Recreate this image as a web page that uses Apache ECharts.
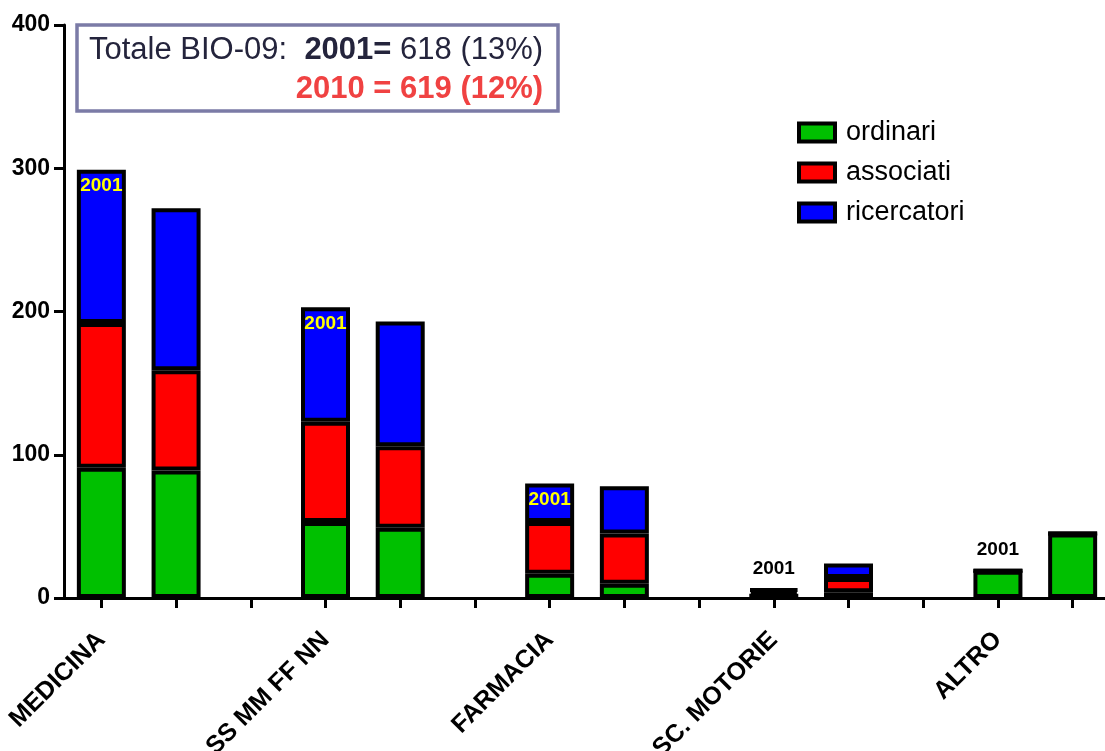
<!DOCTYPE html>
<html>
<head>
<meta charset="utf-8">
<script src="https://cdn.jsdelivr.net/npm/echarts@6/dist/echarts.min.js"></script>
<style>
  html, body { margin: 0; padding: 0; background: #fff; }
  #chart { width: 1105px; height: 751px; }
</style>
</head>
<body>
<div id="chart"></div>
<script>
// dati (per gruppo: 2001, 2010)
var groups = ['MEDICINA', 'SS MM FF NN', 'FARMACIA', 'SC. MOTORIE', 'ALTRO'];
var years = ['2001', '2010'];
var ordinari    = [91, 89, 53, 49, 17, 10, 3, 4, 19, 45];
var associati   = [101, 70, 70, 57, 36, 35, 2, 10, 0, 0];
var ricercatori = [107, 113, 80, 87, 27, 33, 1, 10, 0, 0];
var yTicks = [0, 100, 200, 300, 400];

// slot dell'asse x: 2 barre per gruppo + uno spazio vuoto
var slots = [];
var slotIndex = [];
groups.forEach(function (g, gi) {
  years.forEach(function (y) {
    slotIndex.push(slots.length);
    slots.push(g + ' ' + y);
  });
  if (gi < groups.length - 1) slots.push('gap' + gi);
});

function toSlots(values) {
  var out = slots.map(function () { return '-'; });
  values.forEach(function (v, i) { out[slotIndex[i]] = v; });
  return out;
}

// etichetta "2001" sulle barre del 2001
var ricData = toSlots(ricercatori).map(function (v, i) {
  var k = slotIndex.indexOf(i);
  if (k < 0 || k % 2 !== 0) return v;
  var inside = (ordinari[k] + associati[k] + ricercatori[k]) > 60;
  return {
    value: v,
    label: {
      show: true,
      position: inside ? 'insideTop' : 'top',
      distance: inside ? 7 : 10,
      formatter: years[0],
      color: inside ? '#ffff00' : '#000',
      fontSize: 19, fontWeight: 'bold', fontFamily: 'Liberation Sans'
    }
  };
});

var chart = echarts.init(document.getElementById('chart'));
var barStyle = function (c) {
  return { color: c, borderColor: '#000', borderWidth: 4 };
};

var option = {
  animation: false,
  textStyle: { fontFamily: 'Liberation Sans' },
  title: {
    text: '{a|Totale BIO-09:  }{b|2001=}{a| 618 (13%)}\n{c|2010 = 619 (12%)}',
    left: 77, top: 21,
    padding: [10, 15, 6, 12],
    borderColor: '#7b7ba6', borderWidth: 3.5,
    backgroundColor: '#fff',
    textStyle: {
      rich: {
        a: { fontSize: 31, color: '#24243c', fontWeight: 'normal', lineHeight: 39, fontFamily: 'Liberation Sans' },
        b: { fontSize: 31, color: '#24243c', fontWeight: 'bold', lineHeight: 39, fontFamily: 'Liberation Sans' },
        c: { fontSize: 31, color: '#f04242', fontWeight: 'bold', lineHeight: 39, align: 'right', fontFamily: 'Liberation Sans' }
      }
    }
  },
  legend: {
    orient: 'vertical',
    left: 792, top: 114,
    icon: 'rect',
    itemWidth: 36, itemHeight: 18, itemGap: 13,
    itemStyle: { borderColor: '#000', borderWidth: 4 },
    textStyle: { fontSize: 27, color: '#000', padding: [0, 0, 0, 6] },
    data: ['ordinari', 'associati', 'ricercatori']
  },
  grid: { left: 64, right: -5, top: 25, bottom: 153, outerBoundsMode: 'none' },
  xAxis: {
    type: 'category',
    data: slots,
    axisLine: { lineStyle: { color: '#000', width: 3 } },
    axisTick: { show: true, interval: 0, alignWithLabel: true, length: 10, lineStyle: { color: '#000', width: 3 } },
    axisLabel: {
      interval: 0, rotate: 45, margin: 38,
      fontSize: 25, fontWeight: 'bold', color: '#000',
      formatter: function (v, i) { return i % 3 === 0 ? groups[i / 3] : ''; }
    }
  },
  yAxis: {
    type: 'value',
    min: yTicks[0], max: yTicks[yTicks.length - 1], interval: 100,
    axisLine: { show: true, lineStyle: { color: '#000', width: 3 } },
    axisTick: { show: true, length: 10, lineStyle: { color: '#000', width: 3 } },
    axisLabel: { fontSize: 23, fontWeight: 'bold', color: '#000', margin: 14 },
    splitLine: { show: false }
  },
  series: [
    { name: 'ordinari', type: 'bar', stack: 'tot', barWidth: 49,
      itemStyle: barStyle('#00c000'), data: toSlots(ordinari) },
    { name: 'associati', type: 'bar', stack: 'tot', barWidth: 49,
      itemStyle: barStyle('#ff0000'), data: toSlots(associati) },
    { name: 'ricercatori', type: 'bar', stack: 'tot', barWidth: 49,
      itemStyle: barStyle('#0000ff'), data: ricData }
  ]
};
chart.setOption(option);
</script>
</body>
</html>
